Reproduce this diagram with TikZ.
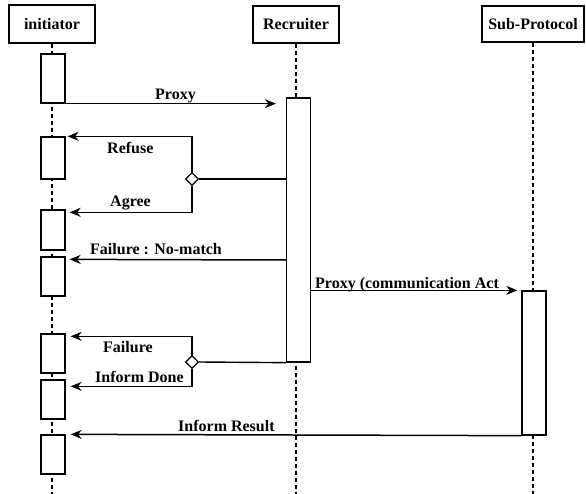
\documentclass[tikz,border=0pt]{standalone}
\usepackage{fontspec}
\setmainfont{Liberation Serif}
\usetikzlibrary{arrows.meta,shapes.geometric,backgrounds}
\tikzset{
  txt/.style={font=\bfseries\fontsize{16}{19}\selectfont},
  head/.style={draw, line width=1.3pt, fill=white, txt, inner sep=0pt},
  act/.style={draw, line width=1.3pt, fill=white, minimum width=24pt, inner sep=0pt},
  life/.style={dash pattern=on 4pt off 3pt, line width=1.4pt},
  msg/.style={line width=1.5pt, -{Stealth[length=11pt,width=9pt,inset=3.5pt]}},
  plain/.style={line width=1.4pt},
  lbl/.style={txt, inner sep=0pt, anchor=base west},
  dia/.style={diamond, draw, fill=white, line width=1.3pt, minimum width=13pt, minimum height=13pt, inner sep=0pt}
}
\begin{document}
\begin{tikzpicture}[x=1pt,y=-1pt]
\useasboundingbox (0,0) rectangle (586,494);
% headers
\node[head, minimum width=86pt, minimum height=38pt] (hi) at (52,24) {initiator};
\node[head, minimum width=86pt, minimum height=37pt] (hr) at (296,24.5) {Recruiter};
\node[head, minimum width=102pt, minimum height=36pt] (hs) at (533,24) {Sub-Protocol};
\coordinate (ei) at (52,494);
\coordinate (er) at (296,494);
\coordinate (es) at (533,494);
% activation boxes on initiator
\node[act, minimum height=49pt] (i1) at (53,78.5) {};
\node[act, minimum height=42pt] (i2) at (53,158) {};
\node[act, minimum height=40pt] (i3) at (53,230) {};
\node[act, minimum height=39pt] (i4) at (53,276.5) {};
\node[act, minimum height=39pt] (i5) at (53,353.5) {};
\node[act, minimum height=39pt] (i6) at (53,399.5) {};
\node[act, minimum height=39pt] (i7) at (53,454.5) {};
% recruiter and sub-protocol activations
\node[act, minimum height=264pt] (r1) at (298.5,230) {};
\node[act, minimum height=144pt] (s1) at (534,363) {};
% lifelines
\begin{pgfonlayer}{background}
\fill[white] (0,0) rectangle (586,494);
\draw[life] (hi.south) -- (ei);
\draw[life] (hr.south) -- (er);
\draw[life] (hs.south) -- (es);
\end{pgfonlayer}
% Proxy
\draw[msg, shorten >=10pt] (i1.south east) -- (r1.west |- i1.south);
\node[lbl] (lproxy) at (155,100) {Proxy};
% Refuse / Agree
\node[dia] (d1) at (192,179) {};
\draw[plain] (r1.west |- d1) -- (d1.east);
\draw[msg, shorten >=2pt] (d1.north) |- (i2.north east);
\draw[msg, shorten >=4pt] (d1.south) |- ([yshift=-3pt]i3.north east);
\node[lbl] (lrefuse) at (107,154) {Refuse};
\node[lbl] (lagree) at (110,207) {Agree};
% Failure : No-match
\draw[msg, shorten >=4pt] (r1.west |- 0,260) -- ([yshift=-3pt]i4.north east);
\node[lbl] (lnomatch) at (90,255) {Failure : No-match};
% Proxy (communication Act
\draw[msg, shorten >=4pt] (r1.east |- s1.north) -- (s1.north west);
\node[lbl] (lpcomm) at (315,288) {Proxy (communication Act};
% Failure / Inform Done
\node[dia] (d2) at (192,362) {};
\draw[plain] (r1.south west) -- (d2.east);
\draw[msg, shorten >=5pt] (d2.north) |- ([yshift=-3pt]i5.north east);
\draw[msg, shorten >=5pt] (d2.south) |- ([yshift=-7pt]i6.north east);
\node[lbl] (lfail) at (103,352) {Failure};
\node[lbl] (ldone) at (95,382) {Inform Done};
% Inform Result
\draw[msg, shorten >=5pt] (s1.south west) -- (i7.north east);
\node[lbl] (lresult) at (178,431) {Inform Result};
\end{tikzpicture}
\end{document}
